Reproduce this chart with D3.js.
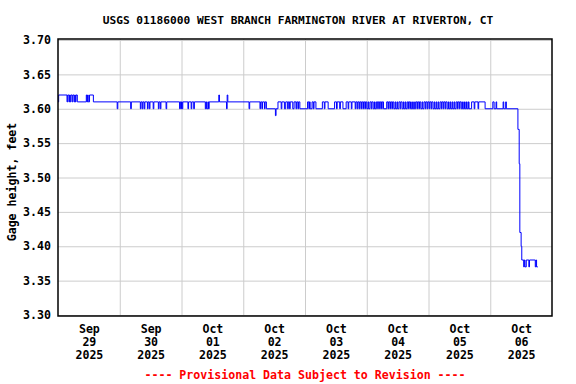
<!DOCTYPE html>
<html>
<head>
<meta charset="utf-8">
<script src="https://cdn.jsdelivr.net/npm/d3@7"></script>
<style>
  body { margin: 0; background: #fff; }
  text { font-family: "DejaVu Sans Mono", monospace; font-weight: bold; font-size: 11.6px; }
</style>
</head>
<body>
<svg width="576" height="384"></svg>
<script>
// gage height change points, one list per day: [time, feet]
const sep29 = [["00:00",3.61],["00:15",3.62],["03:30",3.61],["03:45",3.62],["04:15",3.61],["04:30",3.62],["04:45",3.61],["05:00",3.62],["05:30",3.61],["05:45",3.62],["06:15",3.61],["06:30",3.62],["06:45",3.61],["07:00",3.62],["07:30",3.61],["11:00",3.62],["11:15",3.61],["11:30",3.62],["11:45",3.61],["12:15",3.62],["13:45",3.61],["23:00",3.60],["23:15",3.61]]
const sep30 = [["04:15",3.60],["04:30",3.61],["08:00",3.60],["08:15",3.61],["08:45",3.60],["09:00",3.61],["09:30",3.60],["09:45",3.61],["10:45",3.60],["11:00",3.61],["11:30",3.60],["11:45",3.61],["13:00",3.60],["13:15",3.61],["15:00",3.60],["15:15",3.61],["15:45",3.60],["16:00",3.61],["18:00",3.60],["18:15",3.61],["23:15",3.60],["23:30",3.61],["23:45",3.60]]
const oct01 = [["00:00",3.61],["00:15",3.60],["00:30",3.61],["02:30",3.60],["02:45",3.61],["03:45",3.60],["04:00",3.61],["04:45",3.60],["05:00",3.61],["09:15",3.60],["09:30",3.61],["09:45",3.60],["10:15",3.61],["10:30",3.60],["10:45",3.61],["14:30",3.62],["14:45",3.61],["17:30",3.60],["17:45",3.62],["18:00",3.61]]
const oct02 = [["02:15",3.60],["02:30",3.61],["06:30",3.60],["06:45",3.61],["07:15",3.60],["07:30",3.61],["08:15",3.60],["08:30",3.61],["09:00",3.60],["12:30",3.59],["12:45",3.60],["13:30",3.61],["14:45",3.60],["15:00",3.61],["16:00",3.60],["16:30",3.61],["17:15",3.60],["17:30",3.61],["18:00",3.60],["18:15",3.61],["19:15",3.60],["19:45",3.61],["20:30",3.60],["20:45",3.61],["21:15",3.60],["21:30",3.61],["22:00",3.60]]
const oct03 = [["01:00",3.61],["01:30",3.60],["01:45",3.61],["02:00",3.60],["02:45",3.61],["03:15",3.60],["03:30",3.61],["04:15",3.60],["06:45",3.61],["07:30",3.60],["07:45",3.61],["09:00",3.60],["11:30",3.61],["12:15",3.60],["12:30",3.61],["13:30",3.60],["13:45",3.61],["14:45",3.60],["16:00",3.61],["16:45",3.60],["17:00",3.61],["18:00",3.60],["18:15",3.61],["19:30",3.60],["19:45",3.61],["20:15",3.60],["20:30",3.61],["21:00",3.60],["21:15",3.61],["21:45",3.60],["22:00",3.61],["22:30",3.60],["22:45",3.61],["23:15",3.60],["23:30",3.61]]
const oct04 = [["00:00",3.60],["00:30",3.61],["00:45",3.60],["01:15",3.61],["01:45",3.60],["02:00",3.61],["02:30",3.60],["03:00",3.61],["03:15",3.60],["03:45",3.61],["04:15",3.60],["04:30",3.61],["05:00",3.60],["05:15",3.61],["05:45",3.60],["06:00",3.61],["06:30",3.60],["07:45",3.61],["08:15",3.60],["08:30",3.61],["09:00",3.60],["09:15",3.61],["09:45",3.60],["10:00",3.61],["10:30",3.60],["11:00",3.61],["11:15",3.60],["11:45",3.61],["12:00",3.60],["12:30",3.61],["13:00",3.60],["13:15",3.61],["13:45",3.60],["14:15",3.61],["14:30",3.60],["15:00",3.61],["15:15",3.60],["15:45",3.61],["16:15",3.60],["16:30",3.61],["17:00",3.60],["17:30",3.61],["17:45",3.60],["18:15",3.61],["18:30",3.60],["19:00",3.61],["19:30",3.60],["19:45",3.61],["20:15",3.60],["20:30",3.61],["21:00",3.60],["21:30",3.61],["21:45",3.60],["22:15",3.61],["22:45",3.60],["23:00",3.61],["23:30",3.60],["23:45",3.61]]
const oct05 = [["00:15",3.60],["00:30",3.61],["01:00",3.60],["01:15",3.61],["01:45",3.60],["02:15",3.61],["02:30",3.60],["03:00",3.61],["03:15",3.60],["03:45",3.61],["04:00",3.60],["04:30",3.61],["05:00",3.60],["05:15",3.61],["05:45",3.60],["06:00",3.61],["06:30",3.60],["06:45",3.61],["07:15",3.60],["07:45",3.61],["08:00",3.60],["08:30",3.61],["08:45",3.60],["09:15",3.61],["09:30",3.60],["10:00",3.61],["10:15",3.60],["10:45",3.61],["11:15",3.60],["11:30",3.61],["12:00",3.60],["12:15",3.61],["12:45",3.60],["13:15",3.61],["13:30",3.60],["14:00",3.61],["14:15",3.60],["14:45",3.61],["15:00",3.60],["15:30",3.61],["15:45",3.60],["16:45",3.61],["17:45",3.60],["18:00",3.61],["19:15",3.60],["19:30",3.61],["22:00",3.60]]
const oct06 = [["01:00",3.61],["01:30",3.60],["02:15",3.61],["02:30",3.60],["05:00",3.61],["05:15",3.60],["06:00",3.61],["06:15",3.60],["10:45",3.57],["11:15",3.52],["11:30",3.42],["12:00",3.40],["12:15",3.38],["13:00",3.37],["13:15",3.38],["13:30",3.37],["14:00",3.38],["15:00",3.37],["15:15",3.38],["17:30",3.37],["17:45",3.38],["18:00",3.37],["18:30",3.37]]

const days = ["2025-09-29","2025-09-30","2025-10-01","2025-10-02","2025-10-03","2025-10-04","2025-10-05","2025-10-06"]
const dayMonths = ["Sep","Sep","Oct","Oct","Oct","Oct","Oct","Oct"]
const dayNums = ["29","30","01","02","03","04","05","06"]
const yTicks = [3.30, 3.35, 3.40, 3.45, 3.50, 3.55, 3.60, 3.65, 3.70]

const parse = d3.timeParse("%Y-%m-%d %H:%M")
const perDay = [sep29, sep30, oct01, oct02, oct03, oct04, oct05, oct06]
const series = []
perDay.forEach(function(list, i) {
  list.forEach(function(p) { series.push({t: parse(days[i] + " " + p[0]), v: p[1]}) })
})

const pLeft = 58, pRight = 552, pTop = 39, pBottom = 316
const xs = d3.scaleTime().domain([parse("2025-09-29 00:00"), parse("2025-10-07 00:00")]).range([pLeft, pRight])
const ys = d3.scaleLinear().domain([3.30, 3.70]).range([315, 40])

const svg = d3.select('svg')

// horizontal grid
svg.append('g').attr('transform', 'translate(' + pLeft + ',0)')
  .call(d3.axisLeft(ys).tickValues(yTicks).tickSize(-(pRight - pLeft)).tickFormat(''))
  .call(g => g.select('.domain').remove())
  .call(g => g.selectAll('line').attr('stroke', '#cccccc'))

// vertical grid at midnight
const midnights = days.slice(1).map(d => parse(d + " 00:00"))
svg.append('g').attr('transform', 'translate(0,' + pBottom + ')')
  .call(d3.axisBottom(xs).tickValues(midnights).tickSize(-(pBottom - pTop)).tickFormat(''))
  .call(g => g.select('.domain').remove())
  .call(g => g.selectAll('line').attr('stroke', '#cccccc'))

// line
svg.append('path').datum(series)
  .attr('fill', 'none')
  .attr('stroke', '#0000ff')
  .attr('stroke-width', 1)
  .attr('d', d3.line().x(d => xs(d.t)).y(d => ys(d.v)).curve(d3.curveStepAfter))

// frame
svg.append('rect').attr('x', pLeft).attr('y', pTop).attr('width', pRight - pLeft).attr('height', pBottom - pTop)
  .attr('fill', 'none').attr('stroke', '#000').attr('stroke-width', 1.5)

// y labels
svg.append('g').attr('transform', 'translate(' + pLeft + ',0)')
  .call(d3.axisLeft(ys).tickValues(yTicks).tickSize(0).tickPadding(7).tickFormat(d3.format('.2f')))
  .attr('font-family', null).attr('font-size', null)
  .call(g => g.select('.domain').remove())
  .call(g => g.selectAll('text').attr('fill', '#000'))

// x labels at noon, three lines
const noons = days.map(d => parse(d + " 12:00"))
const xg = svg.append('g').attr('transform', 'translate(0,' + pBottom + ')')
  .call(d3.axisBottom(xs).tickValues(noons).tickSize(0).tickFormat(''))
  .attr('font-family', null).attr('font-size', null)
xg.select('.domain').remove()
xg.selectAll('.tick text').each(function(d, i) {
  const t = d3.select(this).attr('y', 0).attr('dy', null).attr('fill', '#000')
  t.append('tspan').attr('x', 0).attr('y', 17).text(dayMonths[i])
  t.append('tspan').attr('x', 0).attr('y', 30).text(dayNums[i])
  t.append('tspan').attr('x', 0).attr('y', 43).text('2025')
})

svg.append('text').attr('x', 298).attr('y', 24).attr('text-anchor', 'middle').style('font-size', '11.2px')
  .text('USGS 01186000 WEST BRANCH FARMINGTON RIVER AT RIVERTON, CT')

svg.append('text').attr('transform', 'translate(16,182) rotate(-90)').attr('text-anchor', 'middle')
  .text('Gage height, feet')

svg.append('text').attr('x', 305).attr('y', 379).attr('text-anchor', 'middle').attr('fill', '#ff0000')
  .text('---- Provisional Data Subject to Revision ----')
</script>
</body>
</html>
